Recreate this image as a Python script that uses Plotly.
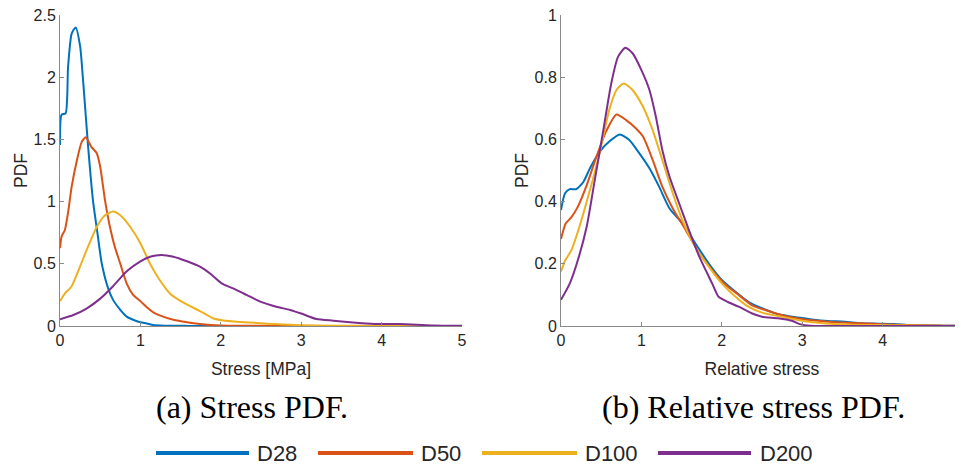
import plotly.graph_objects as go

# ---------------- data ----------------
series_names = ["D28", "D50", "D100", "D200"]
series_colors = ["#0072BD", "#D95319", "#EDB120", "#7E2F8E"]

# (a) Stress PDF
stress_x_d28 = [0, 0.02, 0.07, 0.10, 0.145, 0.195, 0.25, 0.29, 0.35, 0.41, 0.465, 0.52, 0.60, 0.66, 0.75, 0.83, 0.91, 1.0, 1.08, 1.16, 1.3, 1.6, 2.0, 3.0, 4.0, 5.0]
stress_y_d28 = [1.455, 1.70, 1.71, 2.08, 2.35, 2.40, 2.25, 1.95, 1.44, 1.01, 0.75, 0.50, 0.30, 0.21, 0.13, 0.075, 0.05, 0.03, 0.02, 0.008, 0.003, 0.001, 0, 0, 0, 0]

stress_x_d50 = [0, 0.02, 0.06, 0.10, 0.145, 0.21, 0.27, 0.32, 0.39, 0.456, 0.50, 0.56, 0.62, 0.68, 0.75, 0.83, 0.91, 1.0, 1.08, 1.16, 1.24, 1.41, 1.58, 1.74, 2.0, 2.5, 3.0, 4.0, 5.0]
stress_y_d50 = [0.625, 0.72, 0.77, 0.91, 1.12, 1.33, 1.48, 1.517, 1.44, 1.39, 1.28, 1.01, 0.80, 0.64, 0.50, 0.34, 0.25, 0.20, 0.15, 0.11, 0.085, 0.05, 0.03, 0.017, 0.005, 0.002, 0.001, 0, 0]

stress_x_d100 = [0, 0.06, 0.145, 0.25, 0.35, 0.46, 0.56, 0.66, 0.75, 0.87, 1.0, 1.12, 1.24, 1.37, 1.53, 1.74, 1.91, 2.03, 2.24, 2.45, 2.57, 2.78, 2.99, 3.4, 4.0, 5.0]
stress_y_d100 = [0.20, 0.26, 0.32, 0.48, 0.64, 0.80, 0.89, 0.92, 0.89, 0.80, 0.665, 0.50, 0.37, 0.26, 0.19, 0.12, 0.06, 0.045, 0.033, 0.025, 0.019, 0.012, 0.006, 0.003, 0.001, 0]

stress_x_d200 = [0, 0.166, 0.33, 0.50, 0.66, 0.83, 1.0, 1.12, 1.26, 1.41, 1.58, 1.74, 1.87, 2.01, 2.16, 2.32, 2.49, 2.69, 2.86, 3.0, 3.19, 3.40, 3.61, 3.81, 4.02, 4.23, 4.44, 4.64, 5.0]
stress_y_d200 = [0.054, 0.088, 0.14, 0.22, 0.32, 0.44, 0.52, 0.557, 0.571, 0.557, 0.52, 0.477, 0.42, 0.343, 0.30, 0.25, 0.196, 0.155, 0.129, 0.10, 0.056, 0.043, 0.03, 0.021, 0.016, 0.016, 0.011, 0.005, 0.003]

# (b) Relative stress PDF
rel_x_d28 = [0, 0.05, 0.11, 0.19, 0.28, 0.36, 0.48, 0.60, 0.73, 0.85, 0.975, 1.10, 1.22, 1.35, 1.51, 1.67, 1.84, 2.0, 2.17, 2.33, 2.50, 2.70, 2.95, 3.12, 3.32, 3.53, 3.73, 3.94, 4.14, 4.35, 4.76, 5.0]
rel_y_d28 = [0.373, 0.427, 0.44, 0.44, 0.464, 0.507, 0.56, 0.593, 0.616, 0.598, 0.555, 0.507, 0.448, 0.378, 0.33, 0.266, 0.20, 0.148, 0.11, 0.078, 0.057, 0.0375, 0.027, 0.021, 0.016, 0.014, 0.0086, 0.0075, 0.0064, 0.003, 0.001, 0]

rel_x_d50 = [0, 0.06, 0.13, 0.21, 0.32, 0.44, 0.56, 0.69, 0.81, 0.93, 1.02, 1.14, 1.26, 1.39, 1.55, 1.72, 1.88, 2.05, 2.21, 2.37, 2.54, 2.79, 3.03, 3.32, 3.73, 4.14, 4.76, 5.0]
rel_y_d50 = [0.28, 0.33, 0.35, 0.384, 0.453, 0.544, 0.625, 0.68, 0.662, 0.636, 0.609, 0.534, 0.448, 0.378, 0.309, 0.234, 0.18, 0.132, 0.10, 0.0675, 0.0515, 0.032, 0.021, 0.014, 0.0086, 0.004, 0.001, 0]

rel_x_d100 = [0, 0.05, 0.13, 0.23, 0.36, 0.48, 0.60, 0.69, 0.78, 0.89, 1.02, 1.14, 1.26, 1.39, 1.51, 1.67, 1.84, 2.0, 2.17, 2.33, 2.50, 2.70, 2.95, 3.12, 3.53, 3.94, 5.0]
rel_y_d100 = [0.175, 0.21, 0.244, 0.32, 0.437, 0.555, 0.695, 0.759, 0.78, 0.759, 0.705, 0.63, 0.534, 0.427, 0.34, 0.255, 0.19, 0.137, 0.094, 0.062, 0.043, 0.032, 0.019, 0.012, 0.005, 0.003, 0]

rel_x_d200 = [0, 0.11, 0.21, 0.32, 0.42, 0.52, 0.625, 0.71, 0.80, 0.89, 1.0, 1.10, 1.18, 1.26, 1.35, 1.47, 1.59, 1.72, 1.88, 1.96, 2.07, 2.21, 2.37, 2.50, 2.70, 2.87, 2.97, 3.1, 4.0, 5.0]
rel_y_d200 = [0.084, 0.137, 0.212, 0.32, 0.469, 0.62, 0.78, 0.866, 0.895, 0.877, 0.823, 0.759, 0.673, 0.566, 0.48, 0.394, 0.309, 0.223, 0.137, 0.094, 0.078, 0.062, 0.041, 0.03, 0.025, 0.017, 0.006, 0.001, 0, 0]

x_ticks = [0, 1, 2, 3, 4, 5]
stress_y_ticks = [0, 0.5, 1, 1.5, 2, 2.5]
stress_y_ticktext = ["0", "0.5", "1", "1.5", "2", "2.5"]
rel_y_ticks = [0, 0.2, 0.4, 0.6, 0.8, 1]
rel_y_ticktext = ["0", "0.2", "0.4", "0.6", "0.8", "1"]

captions = ["(a) Stress PDF.", "(b) Relative stress PDF."]
x_titles = ["Stress [MPa]", "Relative stress"]
y_title = "PDF"

stress_series = [(stress_x_d28, stress_y_d28), (stress_x_d50, stress_y_d50),
                 (stress_x_d100, stress_y_d100), (stress_x_d200, stress_y_d200)]
rel_series = [(rel_x_d28, rel_y_d28), (rel_x_d50, rel_y_d50),
              (rel_x_d100, rel_y_d100), (rel_x_d200, rel_y_d200)]

# ---------------- figure ----------------
# the page body adds an 8px margin, so the figure is 8px smaller and
# page positions are converted to figure fractions with that offset
OFF = 8
W, H = 963 - OFF, 468 - OFF
SANS = "Liberation Sans, Arial, sans-serif"
SERIF = "Liberation Serif, Times New Roman, serif"
AX_COL = "#8a8a8a"
TXT = "#262626"

def px_x(p):
    return (p - OFF) / W

def px_y(p):
    return 1 - (p - OFF) / H

fig = go.Figure()

for i, (xs, ys) in enumerate(stress_series):
    fig.add_trace(go.Scatter(x=xs, y=ys, mode="lines", name=series_names[i],
                             line=dict(color=series_colors[i], width=2, shape="spline", smoothing=0.6),
                             xaxis="x", yaxis="y", showlegend=False, cliponaxis=False))
for i, (xs, ys) in enumerate(rel_series):
    fig.add_trace(go.Scatter(x=xs, y=ys, mode="lines", name=series_names[i],
                             line=dict(color=series_colors[i], width=2, shape="spline", smoothing=0.6),
                             xaxis="x2", yaxis="y2", showlegend=False, cliponaxis=False))

axis_common = dict(showline=True, linecolor=AX_COL, linewidth=1, ticks="inside", ticklen=4,
                   tickwidth=1, tickcolor=AX_COL, showgrid=False, zeroline=False,
                   tickfont=dict(family=SANS, size=16, color=TXT), automargin=False,
                   ticklabeloverflow="allow")
title_font = dict(family=SANS, size=17.5, color=TXT)

y_dom = [px_y(326), px_y(15)]
fig.update_layout(
    width=W, height=H, margin=dict(l=0, r=0, t=0, b=0),
    paper_bgcolor="white", plot_bgcolor="white", showlegend=False,
    xaxis=dict(domain=[px_x(60), px_x(462)], range=[0, 5], tickvals=x_ticks, anchor="y",
               title=dict(text=x_titles[0], font=title_font, standoff=14), **axis_common),
    yaxis=dict(domain=y_dom, range=[0, 2.5], tickvals=stress_y_ticks, ticktext=stress_y_ticktext, anchor="x",
               title=dict(text=y_title, font=title_font, standoff=1), **axis_common),
    xaxis2=dict(domain=[px_x(561), 1.0], range=[0, 5], tickvals=x_ticks, anchor="y2",
                title=dict(text=x_titles[1], font=title_font, standoff=14), **axis_common),
    yaxis2=dict(domain=y_dom, range=[0, 1], tickvals=rel_y_ticks, ticktext=rel_y_ticktext, anchor="x2",
                title=dict(text=y_title, font=title_font, standoff=1), **axis_common),
)

annotations = []
shapes = []
# captions
for cx, text in zip([252, 753], captions):
    annotations.append(dict(x=px_x(cx), y=px_y(407), xref="paper", yref="paper", text=text,
                            showarrow=False, xanchor="center", yanchor="middle",
                            font=dict(family=SERIF, size=32, color="black")))
# custom legend (long line samples as in the reference)
legend_line_x = [(156, 249), (318, 413), (482, 577), (658, 751)]
legend_text_x = [257, 421, 585, 760]
for i, name in enumerate(series_names):
    x0, x1 = legend_line_x[i]
    shapes.append(dict(type="line", xref="paper", yref="paper", x0=px_x(x0), x1=px_x(x1),
                       y0=px_y(453), y1=px_y(453), line=dict(color=series_colors[i], width=4)))
    annotations.append(dict(x=px_x(legend_text_x[i]), y=px_y(453), xref="paper", yref="paper", text=name,
                            showarrow=False, xanchor="left", yanchor="middle", xshift=-2,
                            font=dict(family=SANS, size=22, color=TXT)))
fig.update_layout(annotations=annotations, shapes=shapes)

fig.write_html("out.html")
